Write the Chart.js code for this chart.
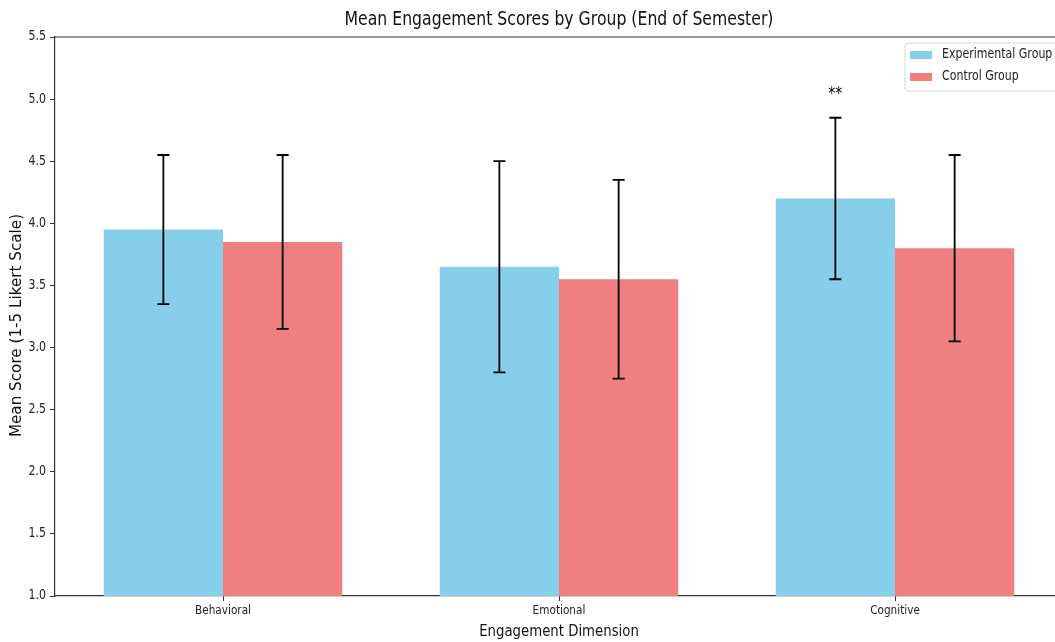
<!DOCTYPE html>
<html>
<head>
<meta charset="utf-8">
<script src="https://cdn.jsdelivr.net/npm/chart.js@4.4.0/dist/chart.umd.min.js"></script>
<style>
  html, body { margin: 0; padding: 0; background: #fff; overflow: hidden; }
  #wrap { width: 1055px; height: 642px; overflow: hidden; }
</style>
</head>
<body>
<div id="wrap"><canvas id="chart" width="1070" height="642"></canvas></div>
<script>
// data
const dimensions = ['Behavioral', 'Emotional', 'Cognitive'];
const experimentalMeans = [3.95, 3.65, 4.20];
const experimentalErr = [0.60, 0.85, 0.65];
const controlMeans = [3.85, 3.55, 3.80];
const controlErr = [0.70, 0.80, 0.75];
const sigMarks = ['', '', '**']; // drawn above the experimental bar
const yTicks = [1.0, 1.5, 2.0, 2.5, 3.0, 3.5, 4.0, 4.5, 5.0, 5.5];

const chartTitle = 'Mean Engagement Scores by Group (End of Semester)';
const xTitle = 'Engagement Dimension';
const yTitle = 'Mean Score (1-5 Likert Scale)';

const FONT = "'DejaVu Sans', sans-serif";
const errors = [experimentalErr, controlErr];

// the reference text is a bit taller than wide, so draw it stretched
function stretchText(ctx, txt, x, y, size, sy, align, rot) {
    ctx.save();
    ctx.translate(x, y);
    if (rot) ctx.rotate(rot);
    ctx.scale(1, sy);
    ctx.font = size + 'px ' + FONT;
    ctx.textAlign = align;
    ctx.textBaseline = 'middle';
    ctx.fillText(txt, 0, 0);
    ctx.restore();
}

// error bars + significance stars
const errorBarPlugin = {
    id: 'errorBars',
    afterDatasetsDraw(chart) {
        const ctx = chart.ctx;
        const y = chart.scales.y;
        ctx.save();
        ctx.strokeStyle = '#000';
        ctx.lineWidth = 1.8;
        chart.data.datasets.forEach(function (ds, i) {
            const meta = chart.getDatasetMeta(i);
            meta.data.forEach(function (bar, j) {
                const v = ds.data[j];
                const e = errors[i][j];
                const top = y.getPixelForValue(v + e);
                const bot = y.getPixelForValue(v - e);
                ctx.beginPath();
                ctx.moveTo(bar.x, top); ctx.lineTo(bar.x, bot);
                ctx.moveTo(bar.x - 6, top); ctx.lineTo(bar.x + 6, top);
                ctx.moveTo(bar.x - 6, bot); ctx.lineTo(bar.x + 6, bot);
                ctx.stroke();
                if (i === 0 && sigMarks[j]) {
                    ctx.fillStyle = '#000';
                    stretchText(ctx, sigMarks[j], bar.x, top - 23, 14, 1.2, 'center');
                }
            });
        });
        ctx.restore();
    }
};

// labels, titles, top spine and legend box (matplotlib look)
const framePlugin = {
    id: 'frame',
    afterDraw(chart) {
        const ctx = chart.ctx;
        const a = chart.chartArea;
        const xs = chart.scales.x, ys = chart.scales.y;
        ctx.save();
        ctx.strokeStyle = '#333';
        ctx.lineWidth = 1.2;
        ctx.beginPath();
        ctx.moveTo(a.left, a.top); ctx.lineTo(a.right, a.top);
        ctx.moveTo(a.right, a.top); ctx.lineTo(a.right, a.bottom);
        ctx.stroke();

        const cx = (a.left + a.right) / 2;
        ctx.fillStyle = '#111';
        stretchText(ctx, chartTitle, cx, 20, 15.7, 1.2, 'center');
        stretchText(ctx, xTitle, cx, 632, 13.3, 1.2, 'center');
        stretchText(ctx, yTitle, 17, (a.top + a.bottom) / 2 + 9, 15.2, 1.0, 'center', -Math.PI / 2);

        ctx.fillStyle = '#222';
        yTicks.forEach(function (v) {
            stretchText(ctx, v.toFixed(1), a.left - 9, ys.getPixelForValue(v), 11, 1.2, 'right');
        });
        dimensions.forEach(function (d, i) {
            stretchText(ctx, d, xs.getPixelForTick(i), a.bottom + 15, 10.5, 1.25, 'center');
        });

        // legend
        const bx = a.right - 158, by = a.top + 6, bw = 154, bh = 48;
        ctx.beginPath();
        ctx.roundRect(bx, by, bw, bh, 3);
        ctx.fillStyle = 'rgba(255,255,255,0.85)';
        ctx.fill();
        ctx.strokeStyle = '#d6d6d6';
        ctx.lineWidth = 1;
        ctx.stroke();
        chart.data.datasets.forEach(function (ds, i) {
            const cy = by + 12 + i * 22;
            ctx.fillStyle = ds.backgroundColor;
            ctx.fillRect(bx + 5, cy - 4, 22, 8);
            ctx.fillStyle = '#222';
            stretchText(ctx, ds.label, bx + 37, cy, 11, 1.2, 'left');
        });
        ctx.restore();
    }
};

new Chart(document.getElementById('chart'), {
    type: 'bar',
    data: {
        labels: dimensions,
        datasets: [
            { label: 'Experimental Group', data: experimentalMeans, backgroundColor: '#87CEEB' },
            { label: 'Control Group', data: controlMeans, backgroundColor: '#F08080' }
        ]
    },
    options: {
        responsive: false,
        animation: false,
        devicePixelRatio: 1,
        categoryPercentage: 0.71,
        barPercentage: 1.0,
        layout: { padding: { left: 0, right: 7, top: 37, bottom: 0 } },
        plugins: {
            legend: { display: false },
            tooltip: { enabled: false },
            title: { display: false }
        },
        scales: {
            x: {
                grid: { display: true, drawOnChartArea: false, offset: false, tickLength: 5, color: '#333' },
                border: { display: true, color: '#333', width: 1.2 },
                ticks: { display: false },
                afterFit(scale) { scale.height = 46; }
            },
            y: {
                min: 1.0,
                max: 5.5,
                afterBuildTicks(scale) { scale.ticks = yTicks.map(function (v) { return { value: v }; }); },
                grid: { display: true, drawOnChartArea: false, tickLength: 5, color: '#333' },
                border: { display: true, color: '#333', width: 1.2 },
                ticks: { display: false },
                afterFit(scale) { scale.width = 55; }
            }
        }
    },
    plugins: [errorBarPlugin, framePlugin]
});
</script>
</body>
</html>
